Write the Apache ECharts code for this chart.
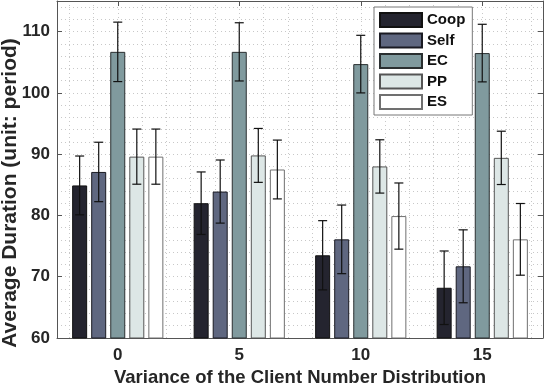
<!DOCTYPE html>
<html>
<head>
<meta charset="utf-8">
<style>
  html, body { margin: 0; padding: 0; background: #fff; }
  #chart { width: 546px; height: 386px; }
</style>
<script src="https://cdn.jsdelivr.net/npm/echarts@6/dist/echarts.min.js"></script>
</head>
<body>
<div id="chart"></div>
<script>
// x categories: variance of client number distribution
const categories = ['0', '5', '10', '15'];
const seriesNames = ['Coop', 'Self', 'EC', 'PP', 'ES'];

// mean durations, one array per method
const coopMean = [84.9, 82.0, 73.5, 68.2];
const selfMean = [87.1, 83.9, 76.1, 71.7];
const ecMean = [106.7, 106.7, 104.7, 106.5];
const ppMean = [89.6, 89.8, 88.0, 89.4];
const esMean = [89.6, 87.5, 79.9, 76.1];

// error bar half widths
const coopErr = [4.8, 5.1, 5.65, 6.0];
const selfErr = [4.85, 5.15, 5.6, 5.95];
const ecErr = [4.85, 4.75, 4.7, 4.7];
const ppErr = [4.5, 4.4, 4.35, 4.35];
const esErr = [4.5, 4.8, 5.4, 5.85];

const yTicks = [60, 70, 80, 90, 100, 110];

const means = [coopMean, selfMean, ecMean, ppMean, esMean];
const errs = [coopErr, selfErr, ecErr, ppErr, esErr];
const fills = ['#24242f', '#5f6780', '#809a9e', '#dde7e6', '#ffffff'];
const borders = ['#111111', '#1a1a22', '#2a2f30', '#555555', '#707070'];

const BAR_W = 15;
const BAR_GAP = 0.27;
// same arithmetic ECharts uses to lay out side-by-side bars
const groupW = seriesNames.length * BAR_W * (1 + BAR_GAP) - BAR_W * BAR_GAP;
const barCenter = (i) => -groupW / 2 + i * BAR_W * (1 + BAR_GAP) + BAR_W / 2;

const errData = [];
means.forEach((arr, s) => {
  arr.forEach((v, c) => {
    errData.push([c, s, v - errs[s][c], v + errs[s][c]]);
  });
});

const textColor = '#262626';
const font = 'Liberation Sans';
const boxColor = '#555555';
const dotted = { color: '#c8c8c8', type: [1, 3], width: 1 };

const barSeries = seriesNames.map((name, s) => ({
  name,
  type: 'bar',
  xAxisIndex: 0,
  yAxisIndex: 0,
  barWidth: BAR_W,
  barGap: (BAR_GAP * 100) + '%',
  clip: true,
  data: means[s],
  itemStyle: { color: fills[s], borderColor: borders[s], borderWidth: 1 },
  z: 2
}));

const errSeries = {
  type: 'custom',
  xAxisIndex: 0,
  yAxisIndex: 0,
  data: errData,
  z: 5,
  renderItem(params, api) {
    const c = api.value(0);
    const s = api.value(1);
    const lo = api.coord([c, api.value(2)]);
    const hi = api.coord([c, api.value(3)]);
    const x = lo[0] + barCenter(s);
    const cap = 4.5;
    const style = { stroke: '#111', lineWidth: 1.2 };
    return {
      type: 'group',
      children: [
        { type: 'line', shape: { x1: x, y1: lo[1], x2: x, y2: hi[1] }, style },
        { type: 'line', shape: { x1: x - cap, y1: lo[1], x2: x + cap, y2: lo[1] }, style },
        { type: 'line', shape: { x1: x - cap, y1: hi[1], x2: x + cap, y2: hi[1] }, style }
      ]
    };
  }
};

const chart = echarts.init(document.getElementById('chart'), null, { renderer: 'canvas' });
chart.setOption({
  animation: false,
  backgroundColor: '#ffffff',
  textStyle: { fontFamily: font },
  grid: { left: 57, right: 3, top: 1, bottom: 48, containLabel: false, outerBoundsMode: 'none' },
  legend: {
    data: seriesNames,
    orient: 'vertical',
    left: 374,
    top: 7,
    padding: [5, 7, 5, 5],
    itemGap: 4.5,
    itemWidth: 42,
    itemHeight: 14,
    icon: 'rect',
    backgroundColor: '#ffffff',
    borderColor: '#777777',
    borderWidth: 1,
    borderRadius: 0,
    textStyle: { fontFamily: font, fontWeight: 'bold', fontSize: 15, color: '#111', lineHeight: 15, padding: [0, 0, 0, 0] }
  },
  graphic: [
    {
      type: 'text',
      x: 10,
      y: 193,
      rotation: Math.PI / 2,
      style: {
        text: 'Average Duration (unit: period)',
        fontFamily: font,
        fontWeight: 'bold',
        fontSize: 21,
        fill: textColor,
        align: 'center',
        verticalAlign: 'middle'
      }
    }
  ],
  xAxis: [
    {
      type: 'category',
      data: categories,
      position: 'bottom',
      boundaryGap: true,
      name: 'Variance of the Client Number Distribution',
      nameLocation: 'middle',
      nameGap: 29,
      nameTextStyle: { fontFamily: font, fontWeight: 'bold', fontSize: 18.5, color: textColor },
      axisLine: { show: true, onZero: false, lineStyle: { color: boxColor, width: 1 } },
      axisTick: { show: true, inside: true, alignWithLabel: true, length: 5, lineStyle: { color: boxColor } },
      axisLabel: { fontFamily: font, fontWeight: 'bold', fontSize: 17, color: textColor, margin: 9 },
      splitLine: { show: false }
    },
    {
      type: 'category',
      data: categories,
      position: 'top',
      boundaryGap: true,
      axisLine: { show: true, onZero: false, lineStyle: { color: boxColor, width: 1 } },
      axisTick: { show: true, inside: true, alignWithLabel: true, length: 5, lineStyle: { color: boxColor } },
      axisLabel: { show: false },
      splitLine: { show: false }
    },
    {
      // only used for the dotted vertical grid, one line per unit
      type: 'value',
      min: -2.5,
      max: 17.5,
      splitNumber: 20,
      position: 'bottom',
      axisLine: { show: false, onZero: false },
      axisTick: { show: false },
      axisLabel: { show: false },
      splitLine: { show: true, lineStyle: dotted }
    }
  ],
  yAxis: [
    {
      type: 'value',
      min: yTicks[0],
      max: 115,
      interval: 10,
      position: 'left',
      axisLine: { show: true, onZero: false, lineStyle: { color: boxColor, width: 1 } },
      axisTick: { show: true, inside: true, length: 5, lineStyle: { color: boxColor } },
      axisLabel: {
        fontFamily: font, fontWeight: 'bold', fontSize: 17, color: textColor, margin: 7,
        formatter: (v) => (yTicks.includes(v) ? String(v) : '')
      },
      splitLine: { show: false }
    },
    {
      type: 'value',
      min: yTicks[0],
      max: 115,
      interval: 10,
      position: 'right',
      axisLine: { show: true, onZero: false, lineStyle: { color: boxColor, width: 1 } },
      axisTick: { show: true, inside: true, length: 5, lineStyle: { color: boxColor } },
      axisLabel: { show: false },
      splitLine: { show: false }
    },
    {
      // dotted horizontal grid every 2 units
      type: 'value',
      min: 60,
      max: 115,
      interval: 2,
      position: 'left',
      axisLine: { show: false, onZero: false },
      axisTick: { show: false },
      axisLabel: { show: false },
      splitLine: { show: true, lineStyle: dotted }
    }
  ],
  series: [...barSeries, errSeries]
});
</script>
</body>
</html>
